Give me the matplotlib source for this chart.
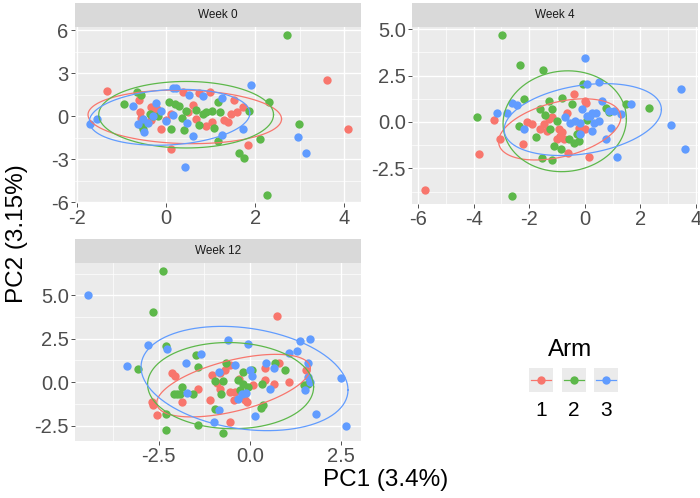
import numpy as np
import matplotlib
matplotlib.use("Agg")
import matplotlib.pyplot as plt

plt.rcParams['font.family'] = ['Liberation Sans', 'DejaVu Sans']

arm_labels = ["1", "2", "3"]
arm_colors = ["#F8766D", "#5DB84A", "#619CFF"]

# Week 0
w0_arm1_x = [-1.33, 3.62, 4.08, 1.83, 0.11, -0.6, -0.58, -0.34, -0.26, 0.11, -0.34, 0.0, -0.11, 0.37, 0.75,
             0.99, 0.6, 0.49, 0.67, 0.89, 1.02, 1.3, 1.38, 1.45, 1.6, 1.72, 1.53, -0.56, -0.2]
w0_arm1_y = [1.77, 2.54, -0.88, -2.03, -2.26, 1.15, 0.28, 0.62, 0.39, 0.16, -0.3, -0.3, -0.88, 1.7, 1.61,
             1.66, 0.78, 0.28, -0.19, -0.69, -0.42, -0.3, -0.42, 0.16, 0.28, 0.62, 1.15, -0.15, 0.5]
w0_arm2_x = [2.72, 2.26, 2.99, 2.11, 1.64, 1.74, 1.16, 1.08, 2.31, 1.86, 1.16, -0.95, -0.65, -0.56, -0.56, -0.52,
             0.11, 0.41, 0.07, 0.19, 0.3, -0.37, -0.19, 0.67, 0.82, 0.89, 1.04, 1.22, 0.75, -0.3, 0.45, 0.35]
w0_arm2_y = [5.66, -5.5, -0.53, -1.62, -2.54, -2.91, -1.76, -0.83, 0.97, 0.39, 1.01, 0.85, 1.66, 1.47, -0.65, -0.88,
             -0.88, -1.0, 0.97, 0.85, 0.69, 0.16, 0.04, 0.46, 0.16, 0.28, 0.39, 0.32, -0.6, 0.0, 0.35, -0.1]
w0_arm3_x = [-1.71, -1.54, 1.9, 2.96, 3.13, 0.43, 1.25, 1.72, 0.6, 0.47, 0.15, 0.22, 0.52, 0.82, 1.25,
             -0.73, -0.22, -0.62, -0.49, -0.11, -0.52, -0.4, -0.3, 0.0, 0.15]
w0_arm3_y = [-0.53, -0.23, 2.17, -1.43, -2.56, -3.58, -1.34, -0.93, -1.38, -0.46, 1.94, 1.94, 1.47, 1.43, 1.24,
             0.69, 0.92, -0.53, -1.11, 0.39, -0.19, -0.5, 0.0, -0.35, 0.1]

# Week 4
w4_arm1_x = [-5.75, -3.82, -3.26, -3.04, -2.22, -2.08, -1.9, -1.6, -1.3, -1.18, -1.48, -0.94, -0.82, -0.88,
             -0.76, -1.0, -0.4, -0.64, 0.02, 0.06, -0.22, -0.16, 0.02, 0.14, -0.62, -1.36]
w4_arm1_y = [-3.67, -1.71, 0.11, -0.94, -1.2, 0.0, -0.13, -0.4, 0.18, 0.29, -0.13, -0.4, -0.54, -0.76,
             -0.94, -0.94, 1.49, 0.5, 1.13, 1.04, -0.31, -0.58, -0.4, -1.87, -1.65, -0.49]
w4_arm2_x = [-2.98, -2.32, -1.51, -3.88, -2.63, -2.2, -2.38, -1.74, -1.54, -1.18, -1.6, -1.3, -1.18, -1.42, -1.26,
             -1.12, -0.85, -0.82, -0.46, -0.06, -0.58, -0.4, -0.22, -0.28, 0.08, 0.75, 0.87, 1.47, 2.31, -1.0]
w4_arm2_y = [4.69, 3.09, 2.81, 0.29, -3.99, 1.26, -0.22, -0.79, -1.92, -2.07, 0.68, 1.13, 0.72, 0.36, -0.36,
             -1.29, -1.47, 1.31, 0.95, 2.03, -0.94, -1.12, -1.03, -0.67, 0.11, 0.77, 0.54, 0.99, 0.77, 0.05]
w4_arm3_x = [0.02, 0.08, 0.5, 3.45, 3.09, 3.61, 1.17, 0.75, 1.65, 1.29, 0.87, 0.63, -3.16, -2.8, -2.62, -2.44,
             -2.2, -0.72, -0.1, -0.52, -0.34, -0.16, 0.08, 0.2, 0.32, 0.26, 0.42, 0.5, 1.05, 0.26, 0.93, -0.16]
w4_arm3_y = [3.44, 2.03, 2.16, 1.8, -0.18, -1.47, -1.87, -0.94, 0.95, 0.41, 0.59, 1.13, 0.5, 0.5, 1.04, 0.9,
             -0.36, 0.29, 0.68, -0.04, 0.05, -0.04, 0.32, 0.32, -0.04, 0.5, 0.5, 0.05, 0.59, -0.49, -0.31, -0.67]

# Week 12
w12_arm1_x = [0.73, -2.55, -2.68, -2.65, -2.14, -2.05, -1.86, -1.41, -1.09, -1.05, -0.82, -0.68, -0.55, -0.89, -0.82,
              -0.55, -0.41, -0.45, -0.55, 1.53, 0.8, 0.41, 1.07, 0.65, 0.41, 0.09, -0.14, -0.09, -0.18, -0.3]
w12_arm1_y = [3.78, -1.91, -1.14, -1.33, 0.5, 0.35, -1.14, -0.37, -1.0, 0.41, 0.5, 0.69, 0.98, -0.04, -0.37,
              -0.56, -0.56, -1.04, -2.32, 0.69, 1.08, 0.79, 0.02, -0.08, 0.12, -0.17, -1.04, -1.14, -0.85, 0.2]
w12_arm2_x = [-2.39, -2.64, -2.29, -3.06, -2.29, -2.3, -1.41, -0.73, -1.47, -1.41, -1.86, -2.09, -2.0, -1.91, -1.55,
              -0.95, -0.95, -0.75, -0.65, -0.27, -0.18, -0.32, 0.05, -0.18, 0.68, 0.95, 0.32, 0.36, 0.29, 1.47, 1.59,
              -0.8, -0.05]
w12_arm2_y = [6.39, 4.03, 2.08, 0.73, -1.85, -2.74, -2.45, -2.92, 1.56, 0.89, -0.27, -0.66, -0.66, -0.66, -0.66,
              -1.53, 0.08, 0.08, 1.08, -0.46, -0.08, 0.12, 0.69, 0.6, 1.08, 0.69, -0.08, -1.33, -1.47, -0.17, -0.08,
              -0.7, -0.3]
w12_arm3_x = [-4.43, -3.35, -2.8, -2.27, -1.75, -1.73, -1.35, -0.98, -0.85, -0.59, -0.86, -0.41, -0.05, 0.14, -0.23,
              -0.32, 0.44, 0.65, 0.0, 0.55, 1.07, 1.29, 1.38, 1.65, 1.59, 1.59, 1.64, 1.5, 1.8, 2.5, 2.62, -0.1, 0.05]
w12_arm3_y = [5.0, 0.95, 2.14, 1.89, 1.08, -0.62, 1.62, -2.32, -1.62, 2.43, 0.6, 0.98, 2.2, -1.97, -0.66,
              -0.95, 1.08, 0.79, 0.69, -0.37, 1.66, 1.81, 2.34, 2.47, 1.12, 0.31, 0.02, -0.46, -1.81, 0.25, -2.55,
              -0.6, 0.35]

# 95% ellipses per arm (center, half extent along x and y, tilt)
w0_ell_cx = [0.42, 0.45, 0.08]
w0_ell_cy = [-0.05, 0.1, -0.08]
w0_ell_rx = [2.17, 1.96, 1.8]
w0_ell_ry = [1.87, 2.32, 1.95]
w0_ell_rho = [-0.08, 0.0, 0.15]

w4_ell_cx = [-0.9, -0.72, -0.07]
w4_ell_cy = [-0.4, 0.04, 0.13]
w4_ell_rx = [2.2, 2.22, 2.83]
w4_ell_ry = [1.65, 2.72, 1.94]
w4_ell_rho = [0.4, 0.05, 0.28]

w12_ell_cx = [-0.45, -0.53, -0.15]
w12_ell_cy = [-0.2, -0.2, 0.21]
w12_ell_rx = [2.1, 2.27, 2.83]
w12_ell_ry = [1.8, 2.48, 3.0]
w12_ell_rho = [0.55, -0.03, -0.22]

week_titles = ["Week 0", "Week 4", "Week 12"]
w0_xticks = [-2, 0, 2, 4]
w0_yticks = [-6, -3, 0, 3, 6]
w4_xticks = [-6, -4, -2, 0, 2, 4]
w4_yticks = [-2.5, 0.0, 2.5, 5.0]
w12_xticks = [-2.5, 0.0, 2.5]
w12_yticks = [-2.5, 0.0, 2.5, 5.0]


def ellipse(cx, cy, rx, ry, rho, segments=101):
    shape = np.array([[rx * rx, rho * rx * ry], [rho * rx * ry, ry * ry]])
    ang = np.linspace(0, 2 * np.pi, segments)
    circle = np.column_stack([np.cos(ang), np.sin(ang)])
    U = np.linalg.cholesky(shape).T
    return np.array([cx, cy]) + circle @ U


def px_axes(fig, left, top, right, bottom):
    W, H = 700, 498
    return fig.add_axes([left / W, 1 - bottom / H, (right - left) / W, (bottom - top) / H])


def minor_of(ticks, lo, hi):
    step = ticks[1] - ticks[0]
    m = [t + step / 2 for t in [ticks[0] - step] + list(ticks)]
    return [v for v in m if lo <= v <= hi]


fig = plt.figure(figsize=(7, 4.98), dpi=100)

panels = [
    (week_titles[0], [(w0_arm1_x, w0_arm1_y), (w0_arm2_x, w0_arm2_y), (w0_arm3_x, w0_arm3_y)],
     (w0_ell_cx, w0_ell_cy, w0_ell_rx, w0_ell_ry, w0_ell_rho),
     w0_xticks, w0_yticks, "{:.0f}", "{:.0f}", (75, 27, 361, 203)),
    (week_titles[1], [(w4_arm1_x, w4_arm1_y), (w4_arm2_x, w4_arm2_y), (w4_arm3_x, w4_arm3_y)],
     (w4_ell_cx, w4_ell_cy, w4_ell_rx, w4_ell_ry, w4_ell_rho),
     w4_xticks, w4_yticks, "{:.0f}", "{:.1f}", (412, 27, 698, 204)),
    (week_titles[2], [(w12_arm1_x, w12_arm1_y), (w12_arm2_x, w12_arm2_y), (w12_arm3_x, w12_arm3_y)],
     (w12_ell_cx, w12_ell_cy, w12_ell_rx, w12_ell_ry, w12_ell_rho),
     w12_xticks, w12_yticks, "{:.1f}", "{:.1f}", (75, 263, 361, 441)),
]

for title, series, ells, xt, yt, xfmt, yfmt, (l, t, r, b) in panels:
    ax = px_axes(fig, l, t, r, b)
    ax.set_facecolor("#EBEBEB")
    allx, ally = [], []
    for (sx, sy), col in zip(series, arm_colors):
        ax.scatter(sx, sy, s=36, color=col, linewidths=0, zorder=3)
        allx += list(sx)
        ally += list(sy)
    for i, col in enumerate(arm_colors):
        e = ellipse(*[p[i] for p in ells])
        ax.plot(e[:, 0], e[:, 1], color=col, lw=0.9, zorder=4)
        allx += list(e[:, 0])
        ally += list(e[:, 1])
    xr = max(allx) - min(allx)
    yr = max(ally) - min(ally)
    xlo, xhi = min(allx) - 0.05 * xr, max(allx) + 0.05 * xr
    ylo, yhi = min(ally) - 0.05 * yr, max(ally) + 0.05 * yr
    ax.set_xlim(xlo, xhi)
    ax.set_ylim(ylo, yhi)
    ax.set_xticks(xt, labels=[xfmt.format(v) for v in xt])
    ax.set_yticks(yt, labels=[yfmt.format(v) for v in yt])
    ax.set_xticks(minor_of(xt, xlo, xhi), minor=True)
    ax.set_yticks(minor_of(yt, ylo, yhi), minor=True)
    ax.grid(which="major", color="white", lw=1.0, zorder=0)
    ax.grid(which="minor", color="white", lw=0.5, zorder=0)
    ax.set_axisbelow(True)
    ax.tick_params(which="major", length=3, width=0.6, color="#333333",
                   labelsize=14.5, labelcolor="#4D4D4D", pad=1.5)
    ax.tick_params(which="minor", length=0)
    for s in ax.spines.values():
        s.set_visible(False)
    # facet strip
    st = px_axes(fig, l, t - 24, r, t)
    st.set_facecolor("#D9D9D9")
    st.set_xticks([])
    st.set_yticks([])
    for s in st.spines.values():
        s.set_visible(False)
    st.text(0.5, 0.5, title, ha="center", va="center", fontsize=8.5, color="#1A1A1A",
            transform=st.transAxes)

fig.text(386 / 700, 1 - 480 / 498, "PC1 (3.4%)", ha="center", va="center", fontsize=17.5)
fig.text(17 / 700, 1 - 234 / 498, "PC2 (3.15%)", ha="center", va="center", fontsize=17.5, rotation=90)

# legend
fig.text(548 / 700, 1 - 350 / 498, "Arm", ha="left", va="center", fontsize=17.5)
key_left = [529, 562, 594]
for kl, lab, col in zip(key_left, arm_labels, arm_colors):
    kx = px_axes(fig, kl, 368, kl + 24, 392)
    kx.set_facecolor("#EBEBEB")
    kx.set_xlim(0, 1)
    kx.set_ylim(0, 1)
    kx.plot([0.1, 0.9], [0.5, 0.5], color=col, lw=0.9)
    kx.scatter([0.5], [0.5], s=36, color=col, linewidths=0)
    kx.set_xticks([])
    kx.set_yticks([])
    for s in kx.spines.values():
        s.set_visible(False)
    fig.text((kl + 12) / 700, 1 - 410 / 498, lab, ha="center", va="center", fontsize=15)

fig.savefig("out.png", dpi=100)
